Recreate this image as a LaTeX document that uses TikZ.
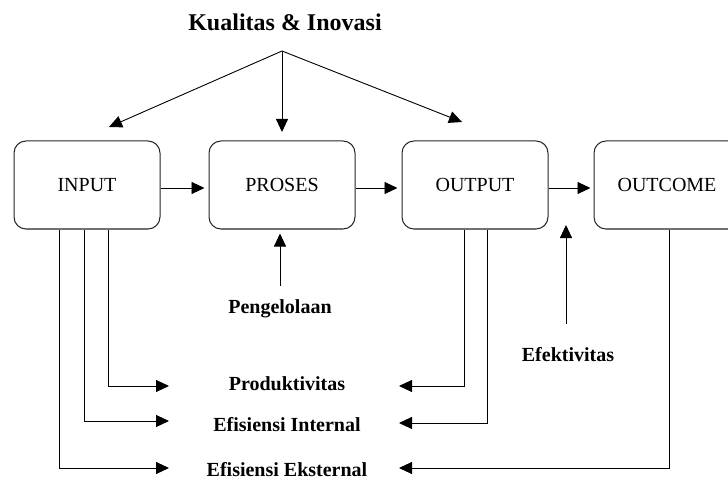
\documentclass[tikz,border=0pt]{standalone}
\usepackage{fontspec}
\setmainfont{Liberation Serif}
\usetikzlibrary{arrows.meta}
\begin{document}
\begin{tikzpicture}[x=1pt,y=-1pt,
  box/.style={draw=black!85, line width=1pt, rounded corners=12pt,
    minimum width=146pt, minimum height=88pt, inner sep=0pt,
    font=\fontsize{20}{24}\selectfont},
  lbl/.style={inner sep=0pt, font=\fontsize{20}{24}\selectfont\bfseries},
  arr/.style={line width=0.9pt, -{Triangle[length=13pt,width=12pt]}},
  ln/.style={line width=0.9pt}]
\useasboundingbox (0,0) rectangle (728,481);
\clip (0,0) rectangle (728,481);
\fill[white] (0,0) rectangle (728,481);

% title and apex
\node[inner sep=0pt, font=\fontsize{24}{28}\selectfont\bfseries] (title) at (285,22) {Kualitas \& Inovasi};
\coordinate (apex) at (282,51);
\coordinate (tIn) at (109,127);
\coordinate (tPr) at (282,132);
\coordinate (tOu) at (462,122);

% boxes
\node[box] (input) at (87,185) {INPUT};
\node[box] (proses) at (282,185) {PROSES};
\node[box] (output) at (475,185) {OUTPUT};
\node[box] (outcome) at (667,185) {OUTCOME};

% top arrows
\draw[arr] (apex) -- (tIn);
\draw[arr] (apex) -- (tPr);
\draw[arr] (apex) -- (tOu);

% box-to-box arrows
\draw[arr] ([yshift=-3pt]input.east) -- ([yshift=-3pt,xshift=-4pt]proses.west);
\draw[arr] ([yshift=-3pt]proses.east) -- ([yshift=-3pt,xshift=-4pt]output.west);
\draw[arr] ([yshift=-3pt]output.east) -- ([yshift=-3pt,xshift=-3pt]outcome.west);

% Pengelolaan
\node[lbl] (peng) at (280,309) {Pengelolaan};
\draw[arr, shorten <=14pt, shorten >=4pt] (peng.north) -- (peng.north |- proses.south);

% Efektivitas
\node[lbl] (efek) at (568,355) {Efektivitas};
\coordinate (efTip) at (566,225);
\draw[arr, shorten <=24pt] (efek.north -| efTip) -- (efTip);

% lower labels
\node[lbl] (prod) at (287,384) {Produktivitas};
\node[lbl] (efin) at (287,425) {Efisiensi Internal};
\node[lbl] (efek2) at (287,470) {Efisiensi Eksternal};

\coordinate (pl) at (169,386);
\coordinate (pr) at (399,386);
\coordinate (il) at (169,421);
\coordinate (ir) at (399,423);
\coordinate (el) at (169,468);
\coordinate (er) at (399,468);

\coordinate (xi1) at (108,0);
\coordinate (xi2) at (84,0);
\coordinate (xi3) at (59,0);
\coordinate (xo1) at (464,0);
\coordinate (xo2) at (487,0);
\coordinate (xc1) at (669,0);

\draw[arr] (input.south -| xi1) |- (pl);
\draw[arr] (input.south -| xi2) |- (il);
\draw[arr] (input.south -| xi3) |- (el);
\draw[arr] (output.south -| xo1) |- (pr);
\draw[arr] (output.south -| xo2) |- (ir);
\draw[arr] (outcome.south -| xc1) |- (er);
\end{tikzpicture}
\end{document}
